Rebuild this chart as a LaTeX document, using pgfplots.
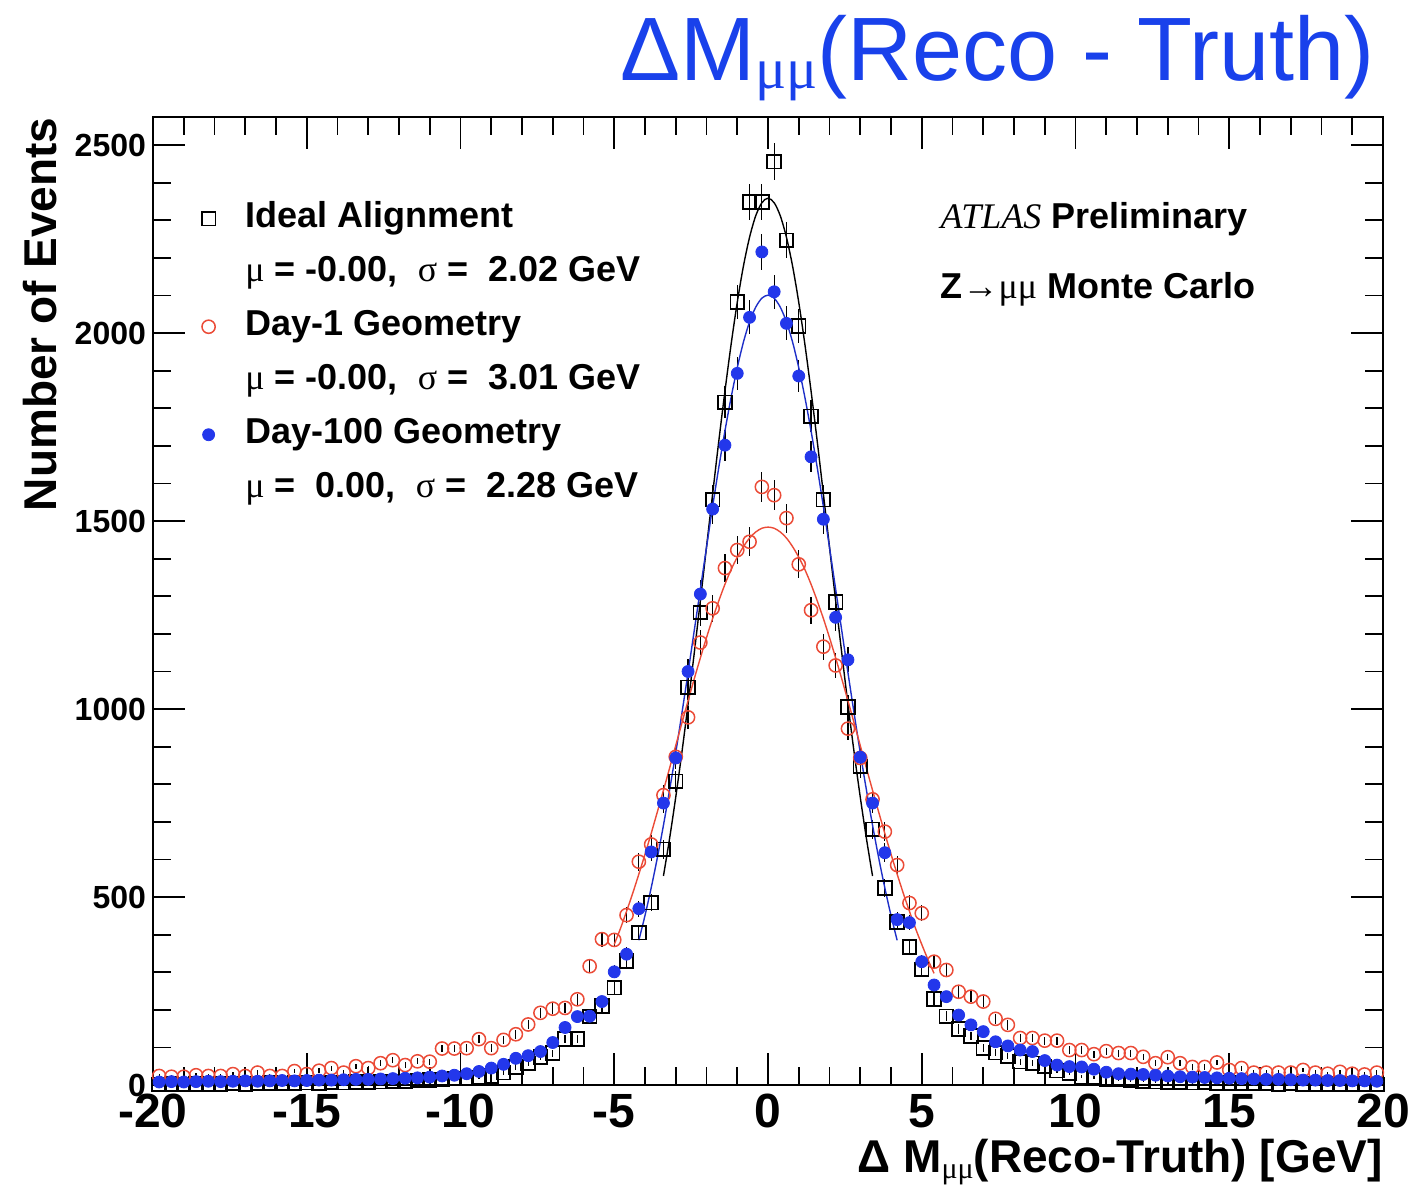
\documentclass[border=0pt]{standalone}
\usepackage{pgfplots}
\pgfplotsset{compat=1.18}
\usepackage{pgfplotstable}
\usepackage{fontspec}
\setmainfont{Liberation Sans}
\newfontfamily\gr{Liberation Serif}
\definecolor{rootblue}{RGB}{35,55,235}
\definecolor{rootred}{RGB}{235,75,55}
\definecolor{titleblue}{RGB}{25,65,235}

\pgfplotstableread{
x y
-19.8 2
-19.4 3
-19.0 2
-18.6 3
-18.2 2
-17.8 3
-17.4 4
-17.0 3
-16.6 4
-16.2 5
-15.8 4
-15.4 5
-15.0 6
-14.6 5
-14.2 7
-13.8 6
-13.4 8
-13.0 7
-12.6 9
-12.2 10
-11.8 10
-11.4 12
-11.0 13
-10.6 15
-10.2 17
-9.8 18
-9.4 20
-9.0 24
-8.6 33
-8.2 48
-7.8 58
-7.4 75
-7.0 85
-6.6 122
-6.2 122
-5.8 182
-5.4 210
-5.0 259
-4.6 330
-4.2 405
-3.8 485
-3.4 627
-3.0 808
-2.6 1058
-2.2 1257
-1.8 1557
-1.4 1816
-1.0 2083
-0.6 2349
-0.2 2349
0.2 2456
0.6 2247
1.0 2019
1.4 1779
1.8 1557
2.2 1285
2.6 1006
3.0 847
3.4 680
3.8 524
4.2 434
4.6 367
5.0 308
5.4 229
5.8 183
6.2 149
6.6 130
7.0 98
7.4 86
7.8 77
8.2 62
8.6 58
9.0 49
9.4 38
9.8 32
10.2 22
10.6 20
11.0 15
11.4 14
11.8 12
12.2 10
12.6 9
13.0 8
13.4 7
13.8 6
14.2 7
14.6 5
15.0 5
15.4 4
15.8 5
16.2 4
16.6 3
17.0 4
17.4 3
17.8 3
18.2 2
18.6 3
19.0 2
19.4 3
19.8 2
}\ideal

\pgfplotstableread{
x y
-19.8 24
-19.4 22
-19.0 22
-18.6 26
-18.2 24
-17.8 24
-17.4 29
-17.0 24
-16.6 33
-16.2 24
-15.8 24
-15.4 37
-15.0 29
-14.6 38
-14.2 45
-13.8 33
-13.4 50
-13.0 45
-12.6 58
-12.2 66
-11.8 53
-11.4 63
-11.0 62
-10.6 97
-10.2 97
-9.8 98
-9.4 122
-9.0 98
-8.6 120
-8.2 135
-7.8 161
-7.4 192
-7.0 203
-6.6 205
-6.2 228
-5.8 316
-5.4 388
-5.0 386
-4.6 452
-4.2 594
-3.8 640
-3.4 771
-3.0 873
-2.6 978
-2.2 1177
-1.8 1268
-1.4 1375
-1.0 1423
-0.6 1445
-0.2 1591
0.2 1569
0.6 1508
1.0 1385
1.4 1263
1.8 1166
2.2 1116
2.6 948
3.0 870
3.4 760
3.8 674
4.2 585
4.6 484
5.0 457
5.4 328
5.8 306
6.2 248
6.6 235
7.0 222
7.4 176
7.8 160
8.2 125
8.6 125
9.0 118
9.4 118
9.8 93
10.2 93
10.6 82
11.0 90
11.4 85
11.8 85
12.2 75
12.6 58
13.0 74
13.4 58
13.8 48
14.2 48
14.6 60
15.0 40
15.4 45
15.8 33
16.2 33
16.6 33
17.0 33
17.4 40
17.8 33
18.2 30
18.6 35
19.0 30
19.4 28
19.8 33
}\dayone

\pgfplotstableread{
x y
-19.8 8
-19.4 9
-19.0 8
-18.6 9
-18.2 10
-17.8 9
-17.4 10
-17.0 11
-16.6 10
-16.2 11
-15.8 12
-15.4 11
-15.0 12
-14.6 13
-14.2 13
-13.8 14
-13.4 15
-13.0 15
-12.6 16
-12.2 17
-11.8 18
-11.4 19
-11.0 21
-10.6 24
-10.2 26
-9.8 30
-9.4 36
-9.0 45
-8.6 55
-8.2 71
-7.8 78
-7.4 89
-7.0 113
-6.6 153
-6.2 182
-5.8 183
-5.4 222
-5.0 301
-4.6 348
-4.2 469
-3.8 620
-3.4 750
-3.0 870
-2.6 1100
-2.2 1306
-1.8 1532
-1.4 1702
-1.0 1893
-0.6 2042
-0.2 2216
0.2 2110
0.6 2026
1.0 1886
1.4 1671
1.8 1505
2.2 1244
2.6 1131
3.0 872
3.4 750
3.8 618
4.2 440
4.6 432
5.0 328
5.4 266
5.8 235
6.2 186
6.6 160
7.0 142
7.4 115
7.8 104
8.2 93
8.6 89
9.0 65
9.4 53
9.8 49
10.2 48
10.6 42
11.0 34
11.4 30
11.8 29
12.2 28
12.6 26
13.0 24
13.4 22
13.8 21
14.2 20
14.6 19
15.0 18
15.4 17
15.8 16
16.2 15
16.6 15
17.0 14
17.4 13
17.8 13
18.2 12
18.6 12
19.0 11
19.4 11
19.8 10
}\dayhundred

\pgfplotstableread{
x y
-3.4 556
-3.2 656
-3.0 766
-2.8 885
-2.6 1013
-2.4 1148
-2.2 1288
-2.0 1431
-1.8 1573
-1.6 1713
-1.4 1846
-1.2 1970
-1.0 2082
-0.8 2178
-0.6 2255
-0.4 2312
-0.2 2347
0.0 2359
0.2 2347
0.4 2312
0.6 2255
0.8 2178
1.0 2082
1.2 1970
1.4 1846
1.6 1713
1.8 1573
2.0 1431
2.2 1288
2.4 1148
2.6 1013
2.8 885
3.0 766
3.2 656
3.4 556
}\idealfit

\pgfplotstableread{
x y
-4.2 385
-4.0 451
-3.8 524
-3.6 604
-3.4 691
-3.2 785
-3.0 884
-2.8 989
-2.6 1097
-2.4 1208
-2.2 1319
-2.0 1430
-1.8 1539
-1.6 1643
-1.4 1740
-1.2 1829
-1.0 1908
-0.8 1976
-0.6 2030
-0.4 2069
-0.2 2093
0.0 2101
0.2 2093
0.4 2069
0.6 2030
0.8 1976
1.0 1908
1.2 1829
1.4 1740
1.6 1643
1.8 1539
2.0 1430
2.2 1319
2.4 1208
2.6 1097
2.8 989
3.0 884
3.2 785
3.4 691
3.6 604
3.8 524
4.0 451
4.2 385
}\hundredfit

\pgfplotstableread{
x y
-5.0 374
-4.8 416
-4.6 462
-4.4 510
-4.2 561
-4.0 614
-3.8 669
-3.6 726
-3.4 784
-3.2 843
-3.0 903
-2.8 963
-2.6 1022
-2.4 1080
-2.2 1136
-2.0 1190
-1.8 1241
-1.6 1288
-1.4 1332
-1.2 1371
-1.0 1404
-0.8 1432
-0.6 1455
-0.4 1471
-0.2 1481
0.0 1484
0.2 1481
0.4 1471
0.6 1455
0.8 1432
1.0 1404
1.2 1371
1.4 1332
1.6 1288
1.8 1241
2.0 1190
2.2 1136
2.4 1080
2.6 1022
2.8 963
3.0 903
3.2 843
3.4 784
3.6 726
3.8 669
4.0 614
4.2 561
4.4 510
4.6 462
4.8 416
5.0 374
5.2 334
5.4 297
}\onefit

\begin{document}
\begin{tikzpicture}
\begin{axis}[
  scale only axis, width=615pt, height=484pt,
  xmin=-20, xmax=20, ymin=0, ymax=2575,
  xtick={-20,-15,-10,-5,0,5,10,15,20},
  xticklabels={-20,-15,-10,-5,0,5,10,15,20},
  minor x tick num=4,
  ytick={0,500,1000,1500,2000,2500},
  yticklabels={0,500,1000,1500,2000,2500},
  minor y tick num=4,
  tick align=inside,
  major tick length=16pt, minor tick length=9pt,
  axis line style={line width=1pt},
  tick style={black, line width=0.9pt},
  x tick label style={font=\fontsize{24}{24}\selectfont\bfseries, yshift=-1pt},
  y tick label style={font=\fontsize{16}{16}\selectfont\bfseries},
  legend style={at={(axis description cs:0.031,0.917)}, anchor=north west,
    draw=none, fill=none, font=\fontsize{18}{18}\selectfont\bfseries,
    row sep=6pt, column sep=13pt, inner sep=0pt,
    nodes={text height=13pt, text depth=4pt, inner sep=2pt}},
  legend cell align=left,
  clip=false,
  error bars/error bar style={black, line width=0.6pt},
]
\addplot[only marks, mark=square, mark size=3.4pt, black, line width=0.9pt,
  error bars/.cd, y dir=both, y explicit, error mark=none]
  table[x=x, y=y, y error expr={sqrt(\thisrow{y})}] {\ideal};
\addlegendimage{empty legend}
\addplot[only marks, mark=o, mark size=3.3pt, rootred, line width=0.75pt,
  error bars/.cd, y dir=both, y explicit, error mark=none]
  table[x=x, y=y, y error expr={sqrt(\thisrow{y})}] {\dayone};
\addlegendimage{empty legend}
\addplot[only marks, mark=*, mark size=3pt, rootblue, mark options={fill=rootblue, draw=rootblue},
  error bars/.cd, y dir=both, y explicit, error mark=none]
  table[x=x, y=y, y error expr={sqrt(\thisrow{y})}] {\dayhundred};
\addlegendimage{empty legend}

\addplot[black, line width=0.7pt, smooth, forget plot] table[x=x,y=y] {\idealfit};
\addplot[rootblue!85!black, line width=0.7pt, smooth, forget plot] table[x=x,y=y] {\hundredfit};
\addplot[rootred, line width=0.7pt, smooth, forget plot] table[x=x,y=y] {\onefit};

\legend{Ideal Alignment,
  {{\gr\mdseries μ} = -0.00,\ \ {\gr\mdseries σ} = \ 2.02 GeV},
  Day-1 Geometry,
  {{\gr\mdseries μ} = -0.00,\ \ {\gr\mdseries σ} = \ 3.01 GeV},
  Day-100 Geometry,
  {{\gr\mdseries μ} = \ 0.00,\ \ {\gr\mdseries σ} = \ 2.28 GeV}}

\node[anchor=base west, font=\fontsize{18}{18}\selectfont, inner sep=0pt]
  at (axis description cs:0.64,0.885) {{\gr\itshape ATLAS} \textbf{Preliminary}};
\node[anchor=base west, font=\fontsize{18}{18}\selectfont\bfseries, inner sep=0pt]
  at (axis description cs:0.64,0.813) {Z{\gr\mdseries →μμ} Monte Carlo};

\node[anchor=base east, font=\fontsize{45}{45}\selectfont, text=titleblue, inner sep=0pt]
  at (axis description cs:0.9935,1.038)
  {ΔM\raisebox{-4pt}{\fontsize{29}{29}\selectfont\gr μμ}(Reco - Truth)};
\node[anchor=base east, font=\fontsize{23}{23}\selectfont\bfseries, inner sep=0pt]
  at (axis description cs:1,-0.0899)
  {Δ M\raisebox{-3pt}{\fontsize{15}{15}\selectfont\gr\mdseries μμ}(Reco-Truth) [GeV]};
\node[rotate=90, anchor=south east, font=\fontsize{23}{23}\selectfont\bfseries, inner sep=0pt]
  at (axis description cs:-0.078,1) {Number of Events};
\end{axis}
\pgfresetboundingbox
\path ([shift={(-76.5pt,-51.5pt)}]current axis.south west) rectangle ([shift={(16.5pt,58.5pt)}]current axis.north east);
\end{tikzpicture}
\end{document}
